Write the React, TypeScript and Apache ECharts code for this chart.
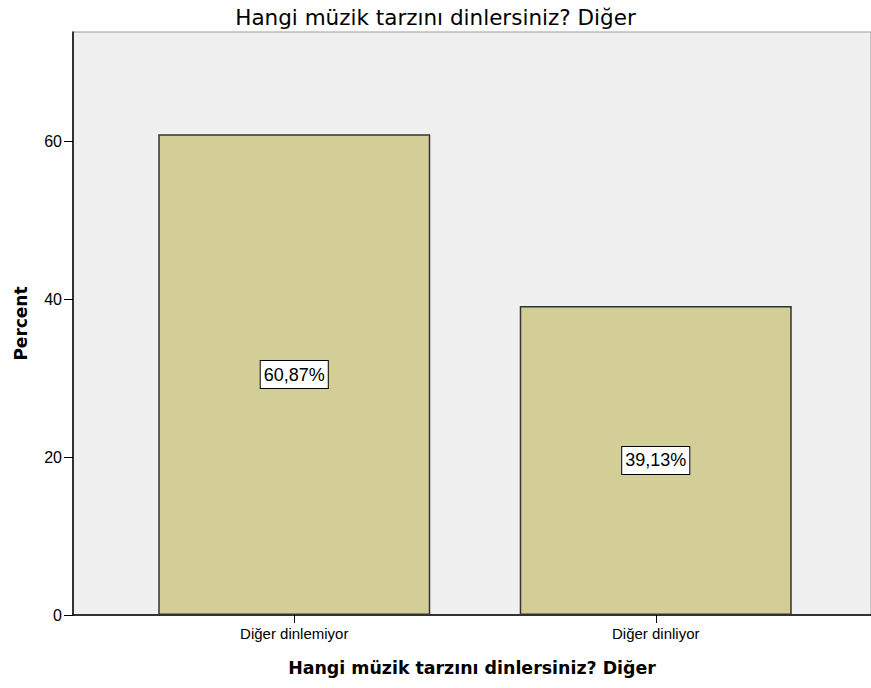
import React, { useEffect, useRef } from "react";
import * as echarts from "echarts";

const categories = ["Diğer dinlemiyor", "Diğer dinliyor"];
const percentValues = [60.87, 39.13];
const yTicks = [0, 20, 40, 60];
const titleText = "Hangi müzik tarzını dinlersiniz? Diğer";
const xAxisTitle = "Hangi müzik tarzını dinlersiniz? Diğer";
const yAxisTitle = "Percent";

const FONT = "'Liberation Sans', Arial, sans-serif";
const WIDE = "'DejaVu Sans', sans-serif";
const Y_MAX = 73.8;

export default function App() {
  const ref = useRef<HTMLDivElement>(null);
  useEffect(() => {
    if (!ref.current) return;
    const chart = echarts.init(ref.current, undefined, { renderer: "svg" });
    chart.setOption({
      animation: false,
      backgroundColor: "#ffffff",
      textStyle: { fontFamily: FONT },
      title: {
        text: titleText,
        left: "center",
        top: 1,
        textStyle: { fontFamily: WIDE, fontSize: 21.5, fontWeight: "normal", color: "#000" },
      },
      grid: [
        {
          left: 73, right: 0, top: 32, bottom: 73,
          show: true, backgroundColor: "#f0f0f0", borderColor: "#9a9a9a", borderWidth: 1,
        },
        { left: 113.5, right: 34.5, top: 32, bottom: 73 },
      ],
      xAxis: [
        {
          gridIndex: 0, type: "category", data: [""],
          axisLine: { show: true, lineStyle: { color: "#000", width: 1.5 } },
          axisTick: { show: false }, axisLabel: { show: false }, splitLine: { show: false },
          name: xAxisTitle, nameLocation: "middle", nameGap: 44,
          nameTextStyle: { fontFamily: WIDE, fontSize: 17.4, fontWeight: "bold", color: "#000" },
        },
        {
          gridIndex: 1, type: "category", data: categories,
          axisLine: { show: false },
          axisTick: { show: true, alignWithLabel: true, length: 8, lineStyle: { color: "#000" } },
          axisLabel: { fontFamily: FONT, fontSize: 15, color: "#000", margin: 11 },
        },
      ],
      yAxis: [
        {
          gridIndex: 0, type: "value", min: 0, max: Y_MAX,
          axisLine: { show: true, lineStyle: { color: "#000", width: 1.5 } },
          axisTick: { show: true, length: 9, customValues: yTicks, lineStyle: { color: "#000" } },
          axisLabel: {
            fontFamily: FONT, fontSize: 16, color: "#000", margin: 11,
            customValues: yTicks,
          },
          splitLine: { show: false },
          name: yAxisTitle, nameLocation: "middle", nameGap: 44, nameRotate: 90,
          nameTextStyle: { fontFamily: WIDE, fontSize: 17, fontWeight: "bold", color: "#000" },
        },
        {
          gridIndex: 1, type: "value", min: 0, max: Y_MAX, show: false,
          splitLine: { show: false },
        },
      ],
      series: [
        {
          type: "bar",
          xAxisIndex: 1, yAxisIndex: 1,
          data: percentValues,
          barWidth: 272,
          itemStyle: { color: "#d3ce97", borderColor: "#333333", borderWidth: 1.5 },
          label: {
            show: true, position: "inside",
            formatter: (p: any) => p.value.toFixed(2).replace(".", ",") + "%",
            fontFamily: FONT, fontSize: 18, color: "#000",
            backgroundColor: "#ffffff", borderColor: "#000", borderWidth: 1,
            padding: [5, 3, 4, 3],
          },
        },
      ],
    });
    return () => chart.dispose();
  }, []);
  return <div ref={ref} style={{ width: 871, height: 688, position: "absolute", left: 0, top: 0 }} />;
}
